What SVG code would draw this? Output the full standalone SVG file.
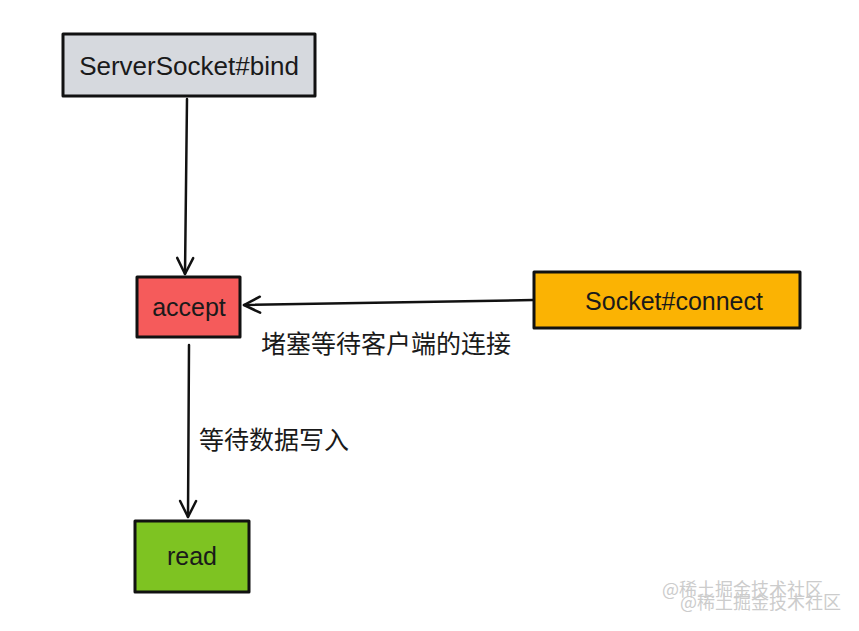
<svg xmlns="http://www.w3.org/2000/svg" width="859" height="631" viewBox="0 0 859 631">
<style>
.box{stroke:#111;stroke-width:3;stroke-linejoin:round}
.lbl{font-family:"Liberation Sans",Arial,sans-serif;font-size:25px;fill:#1a1a1a;text-anchor:middle;dominant-baseline:central}
.cn{font-family:"Noto Sans CJK SC","Noto Sans",sans-serif;font-size:25px;fill:#1a1a1a}
.wm{font-family:"Noto Sans CJK SC","Noto Sans",sans-serif;font-size:18px;fill:#cccccc}
.edge{stroke:#111;stroke-width:2.5;fill:none;stroke-linecap:round}
</style>
<defs>
<marker id="ah" viewBox="0 0 20 20" refX="18" refY="10" markerWidth="20" markerHeight="20" markerUnits="userSpaceOnUse" orient="auto">
<path d="M2,2 L18,10 L2,18" fill="none" stroke="#111" stroke-width="2.5" stroke-linejoin="round" stroke-linecap="round"/>
</marker>
</defs>
<rect width="859" height="631" fill="#ffffff"/>
<g id="edges">
<path class="edge" d="M187,99 L185,274" marker-end="url(#ah)"/>
<path class="edge" d="M533,300 L244,305" marker-end="url(#ah)"/>
<path class="edge" d="M189,345 L188,517" marker-end="url(#ah)"/>
<text class="cn" x="261" y="353">堵塞等待客户端的连接</text>
<text class="cn" x="199" y="449">等待数据写入</text>
</g>
<g id="bind">
<rect class="box" x="63" y="34" width="252" height="62" fill="#d6d9de"/>
<text class="lbl" x="189" y="66" style="font-size:26px">ServerSocket#bind</text>
</g>
<g id="accept">
<rect class="box" x="137" y="277" width="103" height="60" fill="#f55b5b"/>
<text class="lbl" x="189" y="307">accept</text>
</g>
<g id="connect">
<rect class="box" x="534" y="272" width="266" height="56" fill="#fbb303"/>
<text class="lbl" x="674" y="301">Socket#connect</text>
</g>
<g id="read">
<rect class="box" x="135" y="521" width="114" height="71" fill="#7ec322"/>
<text class="lbl" x="192" y="556">read</text>
</g>
<text class="wm" x="662" y="596">@稀土掘金技术社区</text>
<text class="wm" x="680" y="609">@稀土掘金技术社区</text>
</svg>
